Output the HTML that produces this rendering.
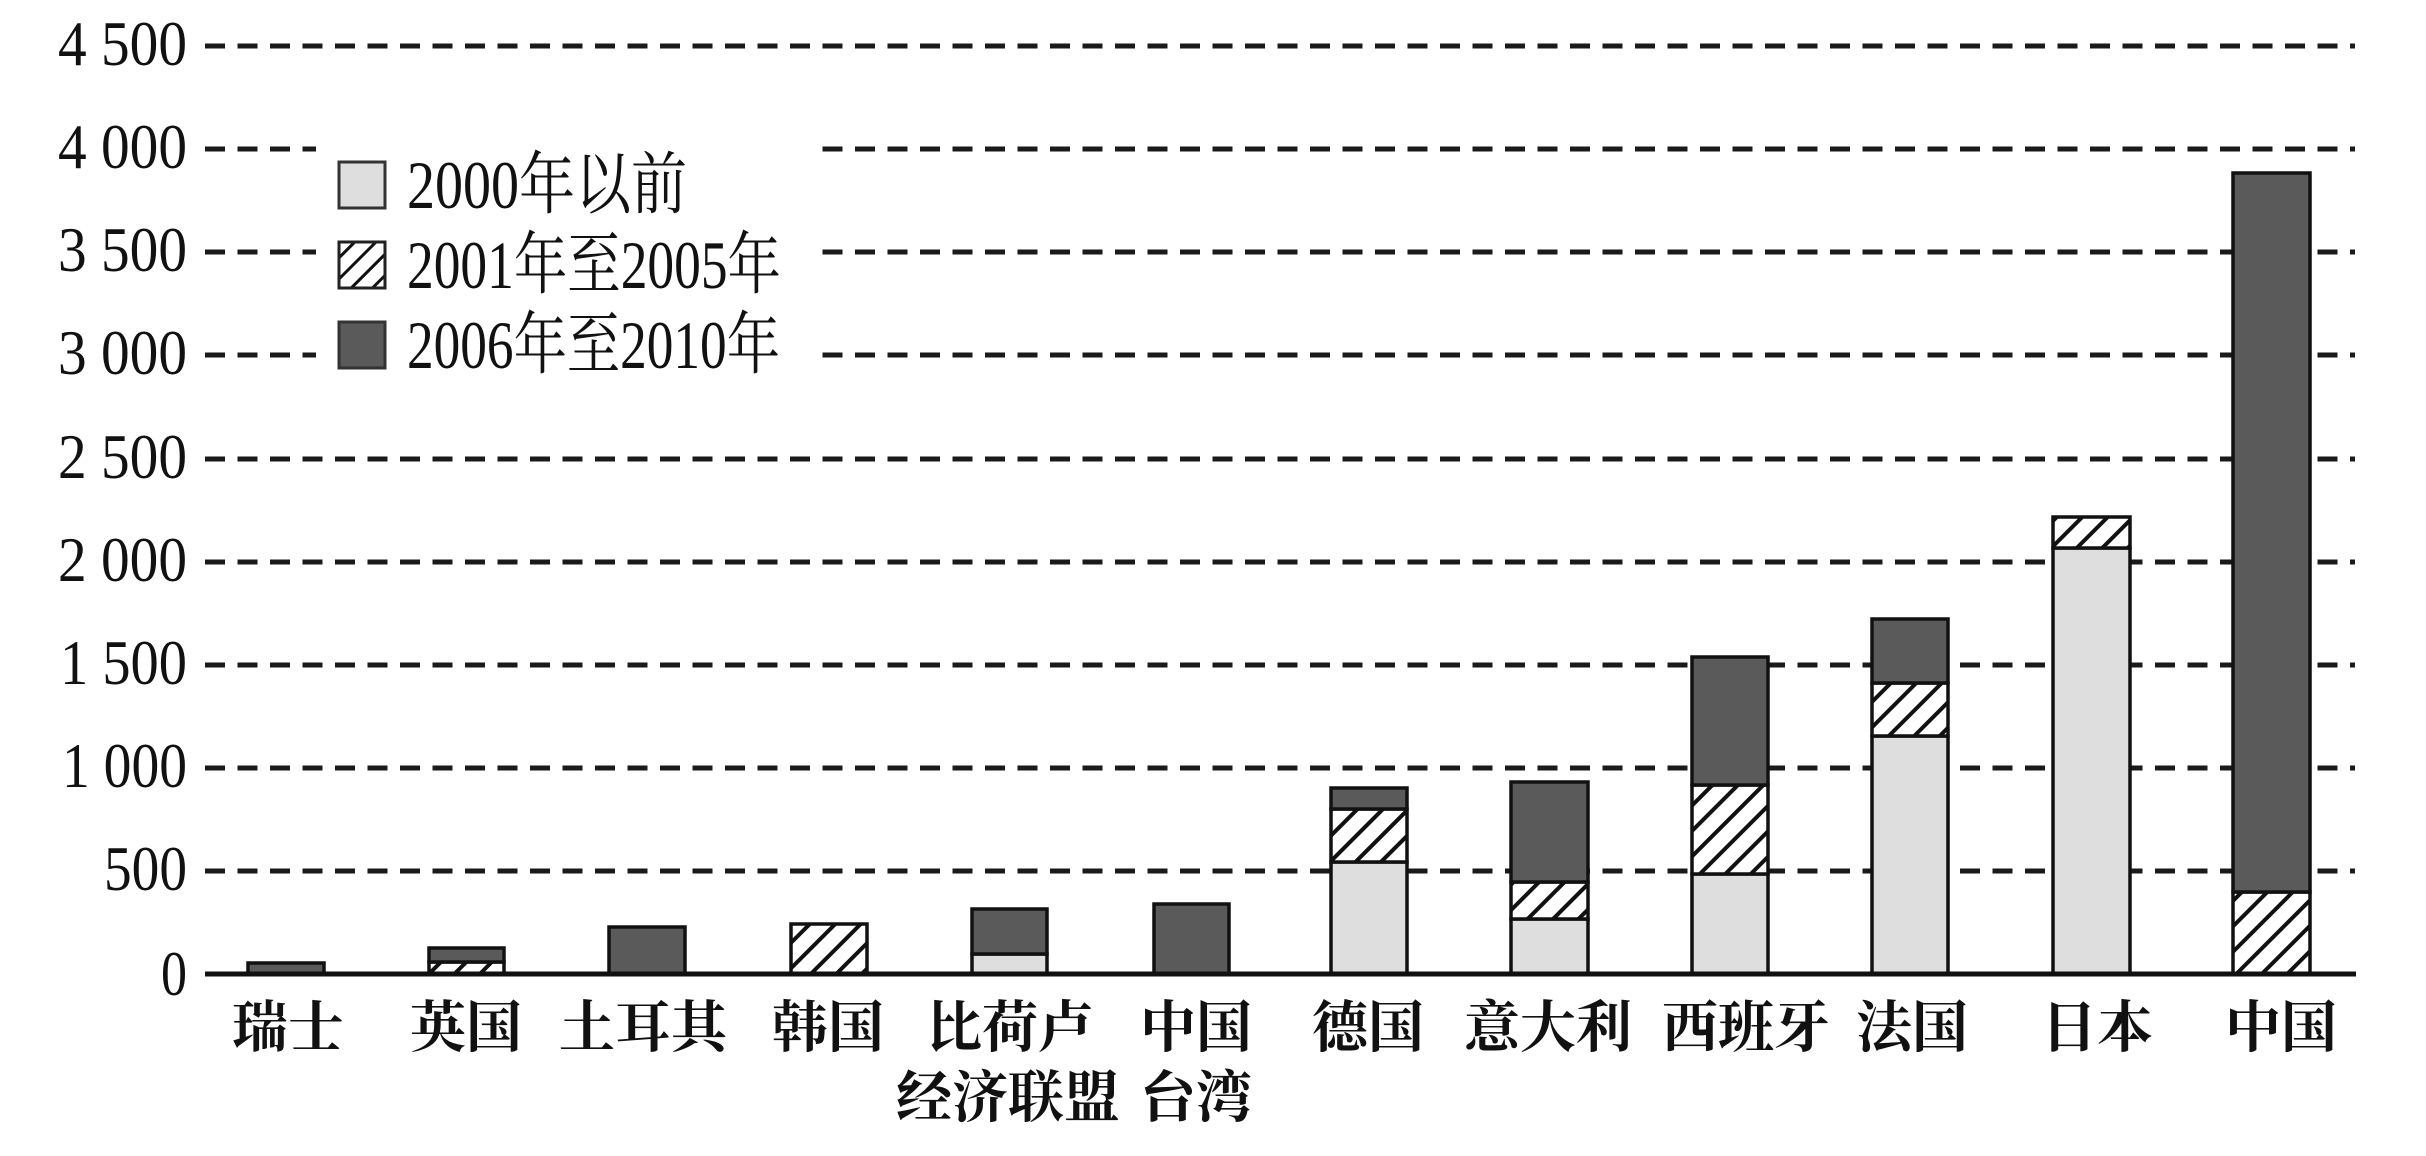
<!DOCTYPE html>
<html><head><meta charset="utf-8"><style>
html,body{margin:0;padding:0;background:#fff;}
svg{display:block;}
.tk{font-family:"Liberation Serif","Noto Serif CJK SC",serif;font-size:64px;fill:#111;}
.lg{font-family:"Liberation Serif","Noto Serif CJK SC",serif;font-size:68px;fill:#111;}
.xl{font-family:"Liberation Serif","Noto Serif CJK SC",serif;font-size:56px;font-weight:700;fill:#111;}
</style></head><body>
<svg width="2426" height="1156" viewBox="0 0 2426 1156" xmlns="http://www.w3.org/2000/svg">
<defs>
<pattern id="h" patternUnits="userSpaceOnUse" width="18" height="18" patternTransform="rotate(45)">
<rect width="18" height="18" fill="#fff"/>
<line x1="2" y1="0" x2="2" y2="18" stroke="#111" stroke-width="4"/>
</pattern>
<pattern id="h2" patternUnits="userSpaceOnUse" width="15" height="15" patternTransform="rotate(45)">
<rect width="15" height="15" fill="#fff"/>
<line x1="2" y1="0" x2="2" y2="15" stroke="#111" stroke-width="3"/>
</pattern>
</defs>
<rect width="2426" height="1156" fill="#fff"/>
<!-- gridlines -->
<g stroke="#1a1a1a" stroke-width="5" stroke-dasharray="20 12.5">
<line x1="205" y1="46" x2="2355" y2="46"/>
<line x1="205" y1="149" x2="2355" y2="149"/>
<line x1="205" y1="252" x2="2355" y2="252"/>
<line x1="205" y1="355" x2="2355" y2="355"/>
<line x1="205" y1="459" x2="2355" y2="459"/>
<line x1="205" y1="562" x2="2355" y2="562"/>
<line x1="205" y1="665" x2="2355" y2="665"/>
<line x1="205" y1="768" x2="2355" y2="768"/>
<line x1="205" y1="871" x2="2355" y2="871"/>
</g>
<!-- legend background -->
<rect x="316" y="120" width="496" height="262" fill="#fff"/>
<!-- tick labels -->
<g class="tk" text-anchor="end">
<text x="187" y="65" textLength="129" lengthAdjust="spacingAndGlyphs">4 500</text>
<text x="187" y="168" textLength="129" lengthAdjust="spacingAndGlyphs">4 000</text>
<text x="187" y="271" textLength="129" lengthAdjust="spacingAndGlyphs">3 500</text>
<text x="187" y="374" textLength="129" lengthAdjust="spacingAndGlyphs">3 000</text>
<text x="187" y="478" textLength="129" lengthAdjust="spacingAndGlyphs">2 500</text>
<text x="187" y="581" textLength="129" lengthAdjust="spacingAndGlyphs">2 000</text>
<text x="187" y="684" textLength="127" lengthAdjust="spacingAndGlyphs">1 500</text>
<text x="187" y="787" textLength="125" lengthAdjust="spacingAndGlyphs">1 000</text>
<text x="187" y="890" textLength="83" lengthAdjust="spacingAndGlyphs">500</text>
<text x="187" y="995" textLength="26" lengthAdjust="spacingAndGlyphs">0</text>
</g>
<!-- legend -->
<rect x="339" y="162" width="46" height="46" fill="#dedede" stroke="#333" stroke-width="3"/>
<rect x="339" y="242" width="46" height="46" fill="url(#h2)" stroke="#222" stroke-width="3"/>
<rect x="339" y="322" width="46" height="46" fill="#5a5a5a" stroke="#333" stroke-width="3"/>
<g class="lg">
<text x="407" y="208" textLength="280" lengthAdjust="spacingAndGlyphs">2000年以前</text>
<text x="407" y="288" textLength="374" lengthAdjust="spacingAndGlyphs">2001年至2005年</text>
<text x="407" y="368" textLength="373" lengthAdjust="spacingAndGlyphs">2006年至2010年</text>
</g>
<!-- bars -->
<g stroke="#111" stroke-width="3.5">
<!-- 瑞士 -->
<rect x="248" y="963" width="76" height="11" fill="#5a5a5a"/>
<!-- 英国 -->
<rect x="429" y="962" width="75" height="12" fill="url(#h)"/>
<rect x="429" y="948" width="75" height="14" fill="#5a5a5a"/>
<!-- 土耳其 -->
<rect x="609" y="927" width="76" height="47" fill="#5a5a5a"/>
<!-- 韩国 -->
<rect x="791" y="924" width="76" height="50" fill="url(#h)"/>
<!-- 比荷卢 -->
<rect x="972" y="954" width="75" height="20" fill="#dedede"/>
<rect x="972" y="909" width="75" height="45" fill="#5a5a5a"/>
<!-- 台湾 -->
<rect x="1154" y="904" width="75" height="70" fill="#5a5a5a"/>
<!-- 德国 -->
<rect x="1331" y="862" width="76" height="112" fill="#dedede"/>
<rect x="1331" y="809" width="76" height="53" fill="url(#h)"/>
<rect x="1331" y="788" width="76" height="21" fill="#5a5a5a"/>
<!-- 意大利 -->
<rect x="1511" y="919" width="77" height="55" fill="#dedede"/>
<rect x="1511" y="882" width="77" height="37" fill="url(#h)"/>
<rect x="1511" y="782" width="77" height="100" fill="#5a5a5a"/>
<!-- 西班牙 -->
<rect x="1692" y="874" width="76" height="100" fill="#dedede"/>
<rect x="1692" y="785" width="76" height="89" fill="url(#h)"/>
<rect x="1692" y="657" width="76" height="128" fill="#5a5a5a"/>
<!-- 法国 -->
<rect x="1872" y="736" width="76" height="238" fill="#dedede"/>
<rect x="1872" y="683" width="76" height="53" fill="url(#h)"/>
<rect x="1872" y="619" width="76" height="64" fill="#5a5a5a"/>
<!-- 日本 -->
<rect x="2053" y="548" width="77" height="426" fill="#dedede"/>
<rect x="2053" y="517" width="77" height="31" fill="url(#h)"/>
<!-- 中国 -->
<rect x="2233" y="892" width="77" height="82" fill="url(#h)"/>
<rect x="2233" y="173" width="77" height="719" fill="#5a5a5a"/>
</g>
<!-- axis -->
<line x1="205" y1="974" x2="2356" y2="974" stroke="#111" stroke-width="5"/>
<!-- x labels -->
<g class="xl" text-anchor="middle">
<text x="288" y="1047">瑞士</text>
<text x="466" y="1047">英国</text>
<text x="643" y="1047">土耳其</text>
<text x="828" y="1047">韩国</text>
<text x="1010" y="1047">比荷卢</text>
<text x="1196" y="1047">中国</text>
<text x="1368" y="1047">德国</text>
<text x="1548" y="1047">意大利</text>
<text x="1746" y="1047">西班牙</text>
<text x="1912" y="1047">法国</text>
<text x="2097" y="1047">日本</text>
<text x="2281" y="1047">中国</text>
<text x="1008" y="1117">经济联盟</text>
<text x="1196" y="1117">台湾</text>
</g>
</svg>
</body></html>
